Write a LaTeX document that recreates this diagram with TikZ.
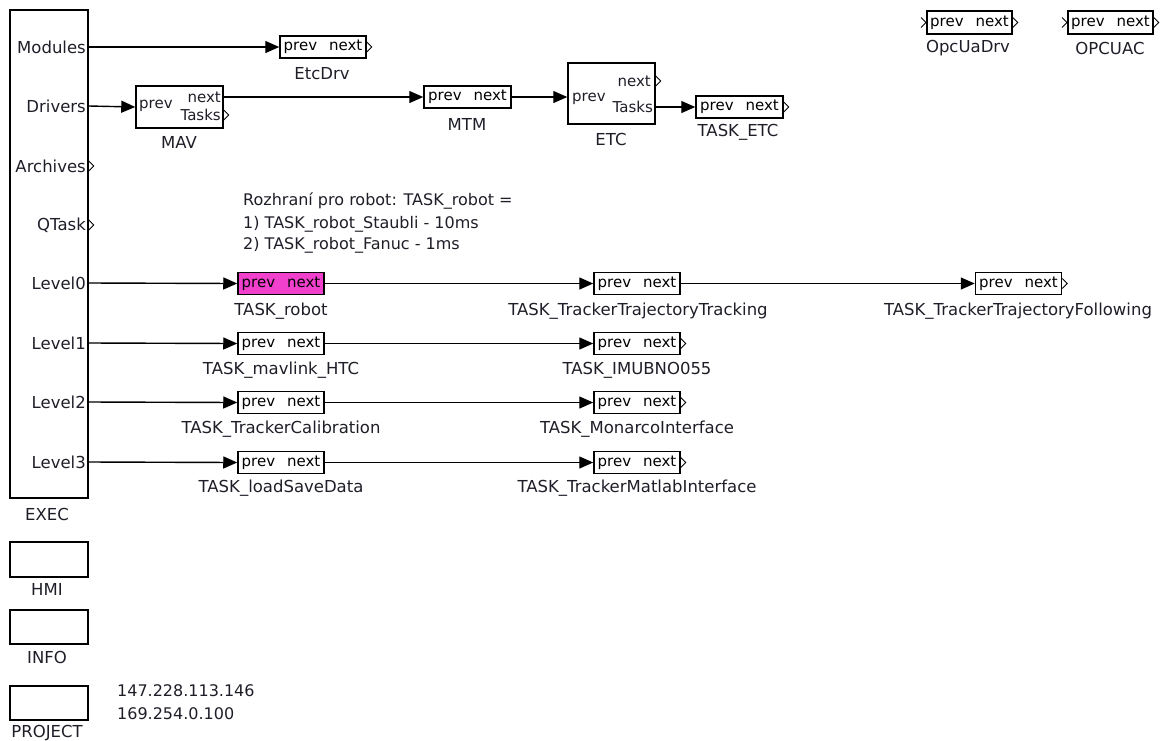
\documentclass[tikz,border=0pt]{standalone}
\usepackage{fontspec}
\setmainfont{DejaVu Sans}
\usetikzlibrary{arrows.meta}
\definecolor{robotpink}{RGB}{240,64,204}
\definecolor{inkgray}{RGB}{30,30,40}
\tikzset{
  blk/.style={draw, line width=1.5pt, minimum width=86pt, minimum height=22pt, inner sep=0pt, font=\fontsize{15}{17}\selectfont},
  lbl/.style={font=\fontsize{16.5}{19}\selectfont, inner sep=0pt, text=inkgray},
  port/.style={font=\fontsize{15}{17}\selectfont, inner sep=0pt, text=inkgray},
  link/.style={line width=1.4pt, -{Triangle[length=14pt,width=12pt]}},
  chev/.style={line width=0.9pt}
}
\newcommand{\outmark}[1]{\draw[chev] (#1) ++(0,-5) -- ++(5,5) -- ++(-5,5);}
\newcommand{\pn}{prev\hspace{12pt}next}

\begin{document}
\begin{tikzpicture}[x=1pt,y=-1pt]
\useasboundingbox (0,0) rectangle (1165,740);
% EXEC
\node[blk, minimum width=78pt, minimum height=488pt] (exec) at (49,254) {};
\node[lbl] (execname) at (47,514) {EXEC};
\node[lbl, anchor=east] (modules) at (86,47) {Modules};
\node[lbl, anchor=east] (drivers) at (86,106) {Drivers};
\node[lbl, anchor=east] (archives) at (86,166) {Archives};
\node[lbl, anchor=east] (qtask) at (86,225) {QTask};
\node[lbl, anchor=east] (level0) at (86,283) {Level0};
\node[lbl, anchor=east] (level1) at (86,343) {Level1};
\node[lbl, anchor=east] (level2) at (86,402) {Level2};
\node[lbl, anchor=east] (level3) at (86,462) {Level3};
\outmark{archives.east -| exec.east}
\outmark{qtask.east -| exec.east}

% HMI, INFO, PROJECT
\node[blk, minimum width=78pt, minimum height=35pt] (hmi) at (49,559.5) {};
\node[lbl] (hminame) at (47,589) {HMI};
\node[blk, minimum width=78pt, minimum height=34pt] (info) at (49,627) {};
\node[lbl] (infoname) at (47,657) {INFO};
\node[blk, minimum width=78pt, minimum height=34pt] (project) at (49,703) {};
\node[lbl] (projectname) at (47,733) {PROJECT};
\node[port, font=\fontsize{16}{18}\selectfont, anchor=west] (ip1) at (117,691) {147.228.113.146};
\node[port, font=\fontsize{16}{18}\selectfont, anchor=west] (ip2) at (117,714) {169.254.0.100};

% modules and drivers
\node[blk] (etcdrv) at (323,47) {\pn};
\node[lbl] (etcdrvname) at (322,74) {EtcDrv};
\outmark{etcdrv.east}
\draw[link] (modules.east -| exec.east) -- (etcdrv.west);

\node[blk, minimum width=87pt, minimum height=42pt] (mav) at (179.5,107) {};
\node[port, anchor=west] (mavprev) at (139,106) {prev};
\node[port, anchor=east] (mavnext) at (221,97) {next};
\node[port, anchor=east] (mavtasks) at (221,115) {Tasks};
\node[lbl] (mavname) at (179,142) {MAV};
\outmark{mavtasks.east -| mav.east}
\draw[link] (drivers.east -| exec.east) -- (mav.west);

\node[blk, minimum width=87pt] (mtm) at (467.5,97) {\pn};
\node[lbl] (mtmname) at (467,124) {MTM};
\draw[link] (mavnext.east -| mav.east) -- (mtm.west);

\node[blk, minimum width=87pt, minimum height=61pt] (etc) at (611.5,93.5) {};
\node[port, anchor=west] (etcprev) at (572,99) {prev};
\node[port, anchor=east] (etcnext) at (651,81) {next};
\node[port, anchor=east] (etctasks) at (653,107) {Tasks};
\node[lbl] (etcname) at (611,139) {ETC};
\outmark{etcnext.east -| etc.east}
\draw[link] (mtm.east) -- (mtm.east -| etc.west);

\node[blk, minimum width=87pt] (taskEtc) at (739.5,107) {\pn};
\node[lbl] (taskEtcname) at (738,132) {TASK\_ETC};
\outmark{taskEtc.east}
\draw[link] (etctasks.east -| etc.east) -- (taskEtc.west);

% OPC UA
\node[blk, minimum width=85pt, minimum height=23pt] (opcuadrv) at (969.5,22.5) {\pn};
\node[lbl] (opcuadrvname) at (968,48) {OpcUaDrv};
\outmark{opcuadrv.west -| 921,0}
\outmark{opcuadrv.east}
\node[blk, minimum width=85pt, minimum height=23pt] (opcuac) at (1110.5,22.5) {\pn};
\node[lbl] (opcuacname) at (1110,48) {OPCUAC};
\outmark{opcuac.west -| 1062,0}
\outmark{opcuac.east}

% note
\node[port, font=\fontsize{16}{18}\selectfont, anchor=west] (note1) at (243,201) {Rozhraní pro robot: TASK\_robot =};
\node[port, font=\fontsize{16}{18}\selectfont, anchor=west] (note2) at (243,224) {1) TASK\_robot\_Staubli - 10ms};
\node[port, font=\fontsize{16}{18}\selectfont, anchor=west] (note3) at (243,245) {2) TASK\_robot\_Fanuc - 1ms};

% Level0
\node[blk, fill=robotpink] (robot) at (281,283.5) {\pn};
\node[lbl] (robotname) at (281,311) {TASK\_robot};
\node[blk] (tracking) at (637,283.5) {\pn};
\node[lbl] (trackingname) at (638,311) {TASK\_TrackerTrajectoryTracking};
\node[blk] (following) at (1018.5,283.5) {\pn};
\node[lbl] (followingname) at (1018,311) {TASK\_TrackerTrajectoryFollowing};
\outmark{following.east}
\draw[link] (level0.east -| exec.east) -- (robot.west);
\draw[link] (robot.east) -- (tracking.west);
\draw[link] (tracking.east) -- (following.west);

% Level1
\node[blk] (mavlink) at (281,343.5) {\pn};
\node[lbl] (mavlinkname) at (281,370) {TASK\_mavlink\_HTC};
\node[blk] (imu) at (637,343.5) {\pn};
\node[lbl] (imuname) at (637,370) {TASK\_IMUBNO055};
\outmark{imu.east}
\draw[link] (level1.east -| exec.east) -- (mavlink.west);
\draw[link] (mavlink.east) -- (imu.west);

% Level2
\node[blk] (calib) at (281,402.5) {\pn};
\node[lbl] (calibname) at (281,429) {TASK\_TrackerCalibration};
\node[blk] (monarco) at (637,402.5) {\pn};
\node[lbl] (monarconame) at (637,429) {TASK\_MonarcoInterface};
\outmark{monarco.east}
\draw[link] (level2.east -| exec.east) -- (calib.west);
\draw[link] (calib.east) -- (monarco.west);

% Level3
\node[blk] (loadsave) at (281,462.5) {\pn};
\node[lbl] (loadsavename) at (281,488) {TASK\_loadSaveData};
\node[blk] (matlab) at (637,462.5) {\pn};
\node[lbl] (matlabname) at (637,488) {TASK\_TrackerMatlabInterface};
\outmark{matlab.east}
\draw[link] (level3.east -| exec.east) -- (loadsave.west);
\draw[link] (loadsave.east) -- (matlab.west);
\end{tikzpicture}
\end{document}
